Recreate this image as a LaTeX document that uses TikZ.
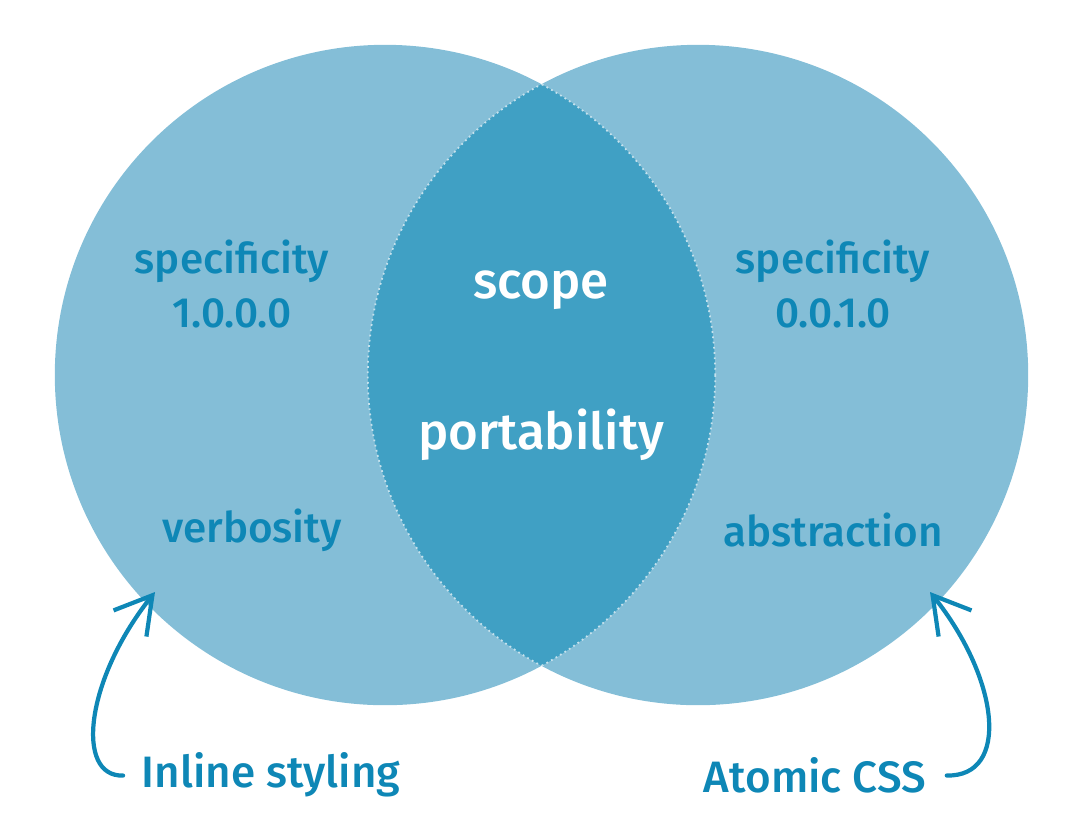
\documentclass[tikz,border=0pt]{standalone}
\usepackage{fontspec}
\setmainfont{Fira Sans}[UprightFont=* Medium]
\usetikzlibrary{positioning,arrows.meta}
\definecolor{setblue}{HTML}{84BED7}
\definecolor{lensblue}{HTML}{40A0C4}
\definecolor{vennink}{HTML}{0E87B6}
\tikzset{
  setlbl/.style={font=\fontsize{12}{15.5}\selectfont, text=vennink, align=center, inner sep=0pt},
  lenslbl/.style={font=\fontsize{14.5}{18}\selectfont, text=white, inner sep=0pt},
  toollbl/.style={font=\fontsize{12.5}{15}\selectfont, text=vennink, inner sep=0pt},
  hand/.style={draw=vennink, line width=1.2pt, line cap=round, line join=round,
               -{Straight Barb[length=3.6mm, width=4.2mm, line width=1.2pt]}},
}

\begin{document}
\begin{tikzpicture}[x=0.01cm, y=-0.01cm]
        \useasboundingbox (0,0) rectangle (1080,839);
        % the two sets
        \fill[setblue] (385,375) circle (3.3cm);
        \fill[setblue] (698,375) circle (3.3cm);
        \begin{scope}
          \clip (385,375) circle (3.3cm);
          \fill[lensblue] (698,375) circle (3.3cm);
          \draw[white!70!lensblue, line width=0.5pt, densely dotted] (698,375) circle (3.3cm);
        \end{scope}
        \begin{scope}
          \clip (698,375) circle (3.3cm);
          \draw[white!70!lensblue, line width=0.5pt, densely dotted] (385,375) circle (3.3cm);
        \end{scope}
        % labels
        \node[setlbl] (specl) at (232,284) {specificity\\1.0.0.0};
        \node[setlbl] (specr) at (833,284) {specificity\\0.0.1.0};
        \node[setlbl] (verb) at (252,530) {verbosity};
        \node[setlbl] (abst) at (833,530) {abstraction};
        \node[lenslbl] (scope) at (541,290) {scope};
        \node[lenslbl] (port) at (541,435) {portability};
        \node[toollbl] (inl) at (271,775) {Inline styling};
        \node[toollbl] (atom) at (815,775) {Atomic CSS};
        \coordinate (inltip) at (155,592);
        \coordinate (atomtip) at (930,592);
        \draw[hand, shorten <=0.18cm] (inl.west) .. controls (75,777) and (85,680) .. (inltip);
        \draw[hand, shorten <=0.2cm] (atom.east) .. controls (1010,777) and (1000,680) .. (atomtip);
      \end{tikzpicture}
\end{document}
